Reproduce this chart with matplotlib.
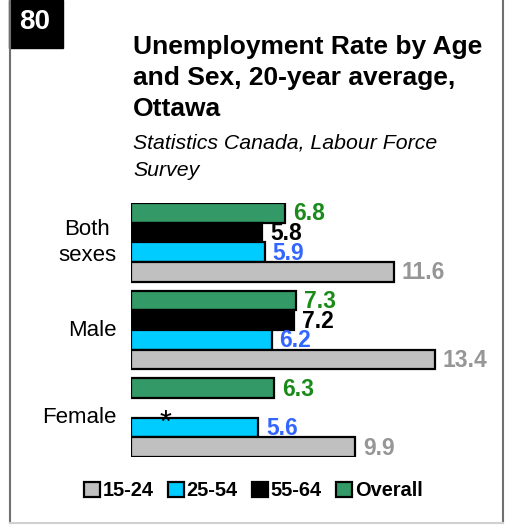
import matplotlib
matplotlib.use('Agg')
import matplotlib.pyplot as plt
import matplotlib.patches as mpatches
import matplotlib.lines as mlines
import numpy as np

plt.rcParams['font.family'] = ['Liberation Sans', 'DejaVu Sans']

#--------------------------------------------------------------------
# Daten
#--------------------------------------------------------------------
groups = ['Both\nsexes', 'Male', 'Female']
series = ['Overall', '55-64', '25-54', '15-24']   # Reihenfolge von oben nach unten
overall = [6.8, 7.3, 6.3]
age_55_64 = [5.8, 7.2, None]    # Female: unterdrueckt (*)
age_25_54 = [5.9, 6.2, 5.6]
age_15_24 = [11.6, 13.4, 9.9]
values = [overall, age_55_64, age_25_54, age_15_24]

bar_colors = ['#339966', '#000000', '#00ccff', '#c0c0c0']
label_colors = ['#1a8a1a', '#000000', '#3366ff', '#969696']

legend_order = ['15-24', '25-54', '55-64', 'Overall']

#--------------------------------------------------------------------
W, H = 506, 529
fig = plt.figure(figsize=(W / 100, H / 100), dpi=100)
fig.patch.set_facecolor('white')

def fx(px):
  return px / W

def fy(py):
  return 1 - py / H

# Rahmen
fig.add_artist(mlines.Line2D([fx(10), fx(10)], [fy(0), fy(523)], color='#707070', lw=1.5))
fig.add_artist(mlines.Line2D([fx(503), fx(503)], [fy(0), fy(523)], color='#707070', lw=1.5))
fig.add_artist(mlines.Line2D([fx(10), fx(503)], [fy(523), fy(523)], color='#d0d0d0', lw=1.5))

# Nummernfeld
fig.add_artist(mpatches.Rectangle((fx(9), fy(48)), fx(54), 48 / H, color='black'))
fig.text(fx(35), fy(22), '80', color='white', fontsize=20, fontweight='bold',
         ha='center', va='center')

# Titel
fig.text(fx(133), fy(47), 'Unemployment Rate by Age', fontsize=19, fontweight='bold', va='center')
fig.text(fx(133), fy(78), 'and Sex, 20-year average,', fontsize=19, fontweight='bold', va='center')
fig.text(fx(133), fy(109), 'Ottawa', fontsize=19, fontweight='bold', va='center')
fig.text(fx(133), fy(143), 'Statistics Canada, Labour Force', fontsize=15.3, style='italic', va='center')
fig.text(fx(133), fy(170), 'Survey', fontsize=15.3, style='italic', va='center')

#--------------------------------------------------------------------
# Balken
#--------------------------------------------------------------------
gstep = 4.45
ax = fig.add_axes([fx(131), fy(457), fx(340), 254 / H])
for k in range(len(series)):
  for g in range(len(groups)):
    v = values[k][g]
    y = g * gstep + k
    if v is None:
      ax.text(1.5, y + 0.8, '*', fontsize=22, ha='center', va='center', color='black')
      continue
    ax.barh(y, v, height=1.0, color=bar_colors[k], edgecolor='black', linewidth=1.6)
    ax.text(v + 0.35, y + 0.05, '%.1f' % v, color=label_colors[k], fontsize=16.5,
            fontweight='bold', va='center', ha='left')

ax.set_xlim(0, 15)
ax.set_ylim(2 * gstep + 3.5, -0.5)
ax.axis('off')

# Kategorien
for g, name in enumerate(groups):
  ax.text(-0.65, g * gstep + 1.5, name, fontsize=16, ha='right', va='center',
          multialignment='center', linespacing=1.3)

# Legende
handles = [mpatches.Patch(facecolor=bar_colors[series.index(s)], edgecolor='black',
                          linewidth=1.6, label=s) for s in legend_order]
fig.legend(handles=handles, loc='center', bbox_to_anchor=(fx(253), fy(491)), ncol=4,
           frameon=False, handlelength=0.8, handleheight=0.75, handletextpad=0.15,
           columnspacing=0.7, prop={'weight': 'bold', 'size': 14.4})

fig.savefig('out.png', dpi=100)
